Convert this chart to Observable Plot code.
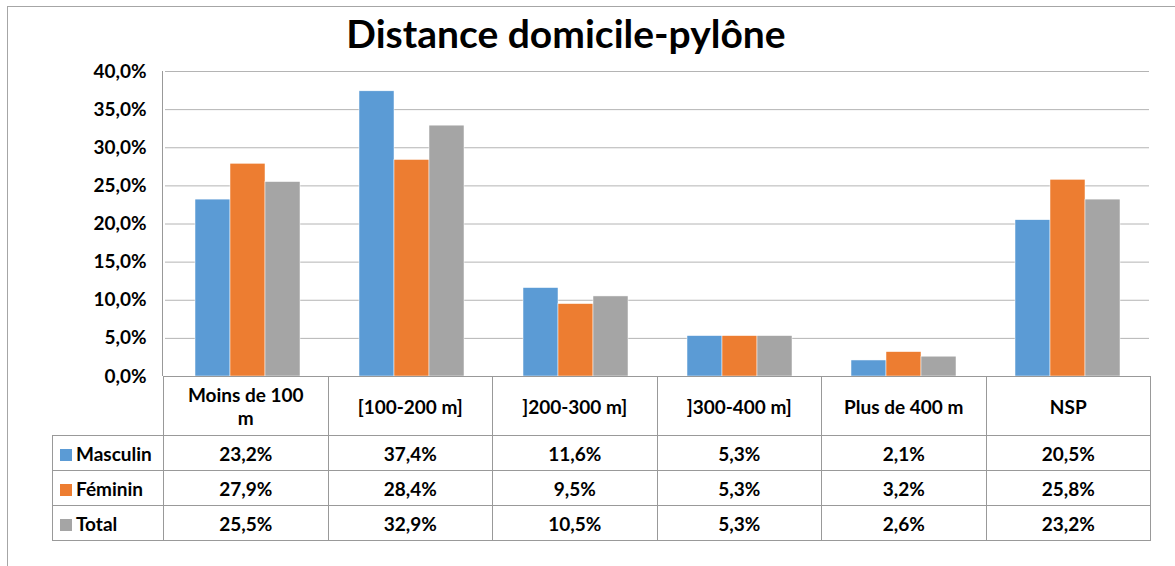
<!DOCTYPE html>
<html><head><meta charset="utf-8">
<script src="https://cdn.jsdelivr.net/npm/d3@7"></script>
<script src="https://cdn.jsdelivr.net/npm/@observablehq/plot@0.6"></script>
<style>
body{margin:0;background:#fff;font-family:Lato,"Open Sans",sans-serif;color:#000;}
#wrap{position:relative;width:1175px;height:566px;overflow:hidden;background:#fff;}
#border{position:absolute;left:7px;top:6px;width:1300px;height:700px;border:1px solid #a6a6a6;pointer-events:none;z-index:5;}
#title{position:absolute;left:566px;top:14px;transform:translateX(-50%);font-size:39px;font-weight:bold;line-height:1;white-space:nowrap;}
#chart{position:absolute;left:0;top:0;}
#vline{position:absolute;left:162px;top:71px;width:1px;height:305px;background:#999;}
table{position:absolute;left:52px;top:376px;border-collapse:collapse;table-layout:fixed;font-weight:bold;font-size:19px;}
td{border:1px solid #999;text-align:center;padding:0;height:34px;}
tr.head td{height:58px;}
td.corner{border-top:none;border-left:none;}
td.lab{text-align:left;}
.key{display:inline-block;width:12px;height:12px;margin:0 4px 0 7px;vertical-align:0px;}
.hd{width:125px;margin:0 auto;line-height:23px;}
</style>
</head><body>
<div id="wrap">
  <div id="title"></div>
  <div id="chart"></div>
  <div id="vline"></div>
  <div id="border"></div>
</div>
<script>
const chartTitle = "Distance domicile-pylône";
const categories = ["Moins de 100 m", "[100-200 m]", "]200-300 m]", "]300-400 m]", "Plus de 400 m", "NSP"];
const seriesNames = ["Masculin", "Féminin", "Total"];
const masculin = [0.232, 0.374, 0.116, 0.053, 0.021, 0.205];
const feminin  = [0.279, 0.284, 0.095, 0.053, 0.032, 0.258];
const total    = [0.255, 0.329, 0.105, 0.053, 0.026, 0.232];
const colors = ["#5B9BD5", "#ED7D31", "#A5A5A5"];
const yTicks = [0, 0.05, 0.10, 0.15, 0.20, 0.25, 0.30, 0.35, 0.40];

const seriesValues = [masculin, feminin, total];
const rows = [];
categories.forEach((c, i) => seriesNames.forEach((s, j) => rows.push({category: c, series: s, value: seriesValues[j][i]})));
const fmt = d => (d * 100).toFixed(1).replace(".", ",") + "%";

document.getElementById("title").textContent = chartTitle;

const plot = Plot.plot({
  width: 1175, height: 390,
  marginTop: 71, marginBottom: 14, marginLeft: 163, marginRight: 25,
  style: {background: "transparent", fontFamily: "Lato, 'Open Sans', sans-serif", fontSize: "19px", fontWeight: "bold", color: "#000", overflow: "visible"},
  facet: {data: rows, x: "category"},
  fx: {domain: categories, padding: 0, axis: null},
  x: {domain: seriesNames, paddingInner: 0, paddingOuter: 0.785, axis: null},
  y: {domain: [0, 0.4], ticks: yTicks, tickFormat: fmt, tickSize: 0, tickPadding: 19, label: null},
  color: {domain: seriesNames, range: colors},
  marks: [
    Plot.ruleY(yTicks, {stroke: "#b4b4b4", strokeWidth: 1}),
    Plot.barY(rows, {x: "series", y: "value", fill: "series", stroke: "white", strokeWidth: 0.5})
  ]
});
document.getElementById("chart").appendChild(plot);

// data table
const table = d3.select("#wrap").append("table");
const cg = table.append("colgroup");
cg.append("col").style("width", "111px");
categories.forEach(() => cg.append("col").style("width", "164.5px"));
const head = table.append("tr").attr("class", "head");
head.append("td").attr("class", "corner");
categories.forEach(c => head.append("td").append("div").attr("class", "hd").text(c));
seriesNames.forEach((s, j) => {
  const tr = table.append("tr");
  const td = tr.append("td").attr("class", "lab");
  td.append("span").attr("class", "key").style("background", colors[j]);
  td.append("span").text(s);
  seriesValues[j].forEach(v => tr.append("td").text(fmt(v)));
});
</script>
</body></html>
